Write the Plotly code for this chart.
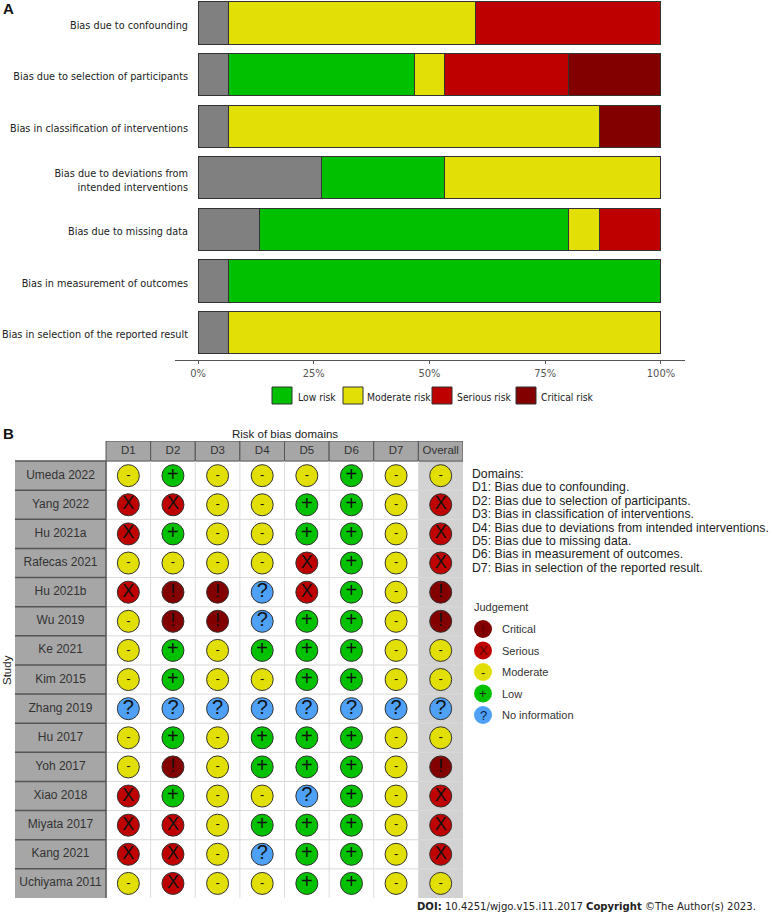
import plotly.graph_objects as go

W, H = 771, 916
def px(x): return x / W
def py(y): return 1 - y / H

# --- Panel A data
bias_labels = ["Bias due to confounding", "Bias due to selection of participants",
               "Bias in classification of interventions",
               "Bias due to deviations from<br>intended interventions",
               "Bias due to missing data", "Bias in measurement of outcomes",
               "Bias in selection of the reported result"]
no_info  = [6.67, 6.67, 6.67, 26.67, 13.33, 6.67, 6.67]
low      = [None, 40.0, None, 26.67, 66.67, 93.33, None]
moderate = [53.33, 6.67, 80.0, 46.67, 6.67, None, 93.33]
serious  = [40.0, 26.67, None, None, 13.33, None, None]
critical = [None, 20.0, 13.33, None, None, None, None]
pct_ticks = [0, 25, 50, 75, 100]
pct_labels = ["0%", "25%", "50%", "75%", "100%"]

# --- Panel B data
studies = ["Umeda 2022", "Yang 2022", "Hu 2021a", "Rafecas 2021", "Hu 2021b", "Wu 2019", "Ke 2021",
           "Kim 2015", "Zhang 2019", "Hu 2017", "Yoh 2017", "Xiao 2018", "Miyata 2017", "Kang 2021",
           "Uchiyama 2011"]
domains = ["D1", "D2", "D3", "D4", "D5", "D6", "D7", "Overall"]
judgements = ["-+---+--", "XX--++-X", "X+--++-X", "----X+-X", "X!!?X+-!", "-!!?++-!", "-+-+++--",
              "-+--++--", "????????", "-+-+++--", "-!-+++-!", "X+--?+-X", "XX-+++-X", "XX-?++-X",
              "-X--++--"]
domain_text = ["Domains:", "D1: Bias due to confounding.", "D2: Bias due to selection of participants.",
               "D3: Bias in classification of interventions.",
               "D4: Bias due to deviations from intended interventions.", "D5: Bias due to missing data.",
               "D6: Bias in measurement of outcomes.", "D7: Bias in selection of the reported result."]
levels = [("!", "Critical", "#820000"), ("X", "Serious", "#BF0000"), ("-", "Moderate", "#E2DF07"),
          ("+", "Low", "#02C100"), ("?", "No information", "#4EA1F7")]
glyph_size = {"!": 19, "X": 18, "-": 13, "+": 20, "?": 20}

NARROW = "DejaVu Sans Condensed, DejaVu Sans"
ARIAL = "Liberation Sans, Arial"
fig = go.Figure()

# Panel A bars
for name, vals, col in [("No information", no_info, "#808080"), ("Low risk", low, "#00C000"),
                        ("Moderate risk", moderate, "#E2DF07"), ("Serious risk", serious, "#BF0000"),
                        ("Critical risk", critical, "#820000")]:
    fig.add_trace(go.Bar(y=list(range(7)), x=vals, name=name, orientation="h", width=0.82,
                         marker=dict(color=col, line=dict(color="#333333", width=1)),
                         showlegend=False, xaxis="x", yaxis="y"))

# Panel B markers
for g, name, col in levels:
    xs, ys = [], []
    for r, row in enumerate(judgements):
        for c, ch in enumerate(row):
            if ch == g:
                xs.append(c); ys.append(r)
    fig.add_trace(go.Scatter(x=xs, y=ys, mode="markers+text", name=name, text=[g] * len(xs),
                             textposition="middle center", showlegend=False, cliponaxis=False,
                             textfont=dict(family=ARIAL, size=glyph_size[g], color="#111111"),
                             marker=dict(size=22, color=col, line=dict(color="#333333", width=1)),
                             xaxis="x2", yaxis="y2"))

# Study and domain labels
fig.add_trace(go.Scatter(x=[-1.52] * len(studies), y=list(range(len(studies))), text=studies, mode="text",
                         textfont=dict(family=ARIAL, size=12, color="#333333"), showlegend=False,
                         xaxis="x2", yaxis="y2"))
fig.add_trace(go.Scatter(x=list(range(8)), y=[-0.84] * 8, text=domains, mode="text",
                         textfont=dict(family=ARIAL, size=11.5, color="#333333"), showlegend=False,
                         xaxis="x2", yaxis="y2"))

shapes, ann = [], []
def rect(x0, x1, y0, y1, fill, line=None, lw=1, layer="below"):
    shapes.append(dict(type="rect", xref="x2", yref="y2", x0=x0, x1=x1, y0=y0, y1=y1, fillcolor=fill,
                       line=dict(color=line or fill, width=lw if line else 0), layer=layer))
def seg(x0, x1, y0, y1, col, lw=1):
    shapes.append(dict(type="line", xref="x2", yref="y2", x0=x0, x1=x1, y0=y0, y1=y1,
                       line=dict(color=col, width=lw), layer="below"))
def label(x, y, s, size=12, fam=ARIAL, col="#222222", anchor="left", **kw):
    ann.append(dict(xref="paper", yref="paper", x=px(x), y=py(y), text=s, showarrow=False, xanchor=anchor,
                    yanchor="middle", font=dict(family=fam, size=size, color=col), **kw))

n = len(studies)
rect(6.5, 7.5, -0.5, n - 0.5, "#D2D2D2")
rect(-2.54, -0.5, -0.5, n - 0.5, "#A6A6A6")
for c in range(8):
    rect(c - 0.5, c + 0.5, -1.19, -0.5, "#A6A6A6", "#555555", 1)
for r in range(1, n):
    seg(-0.5, 7.5, r - 0.5, r - 0.5, "#D9D9D9", 1)
for c in range(0, 7):
    seg(c + 0.5, c + 0.5, -0.5, n - 0.5, "#DDDDDD", 1)
for r in range(0, n):
    seg(-2.54, -0.5, r - 0.5, r - 0.5, "#555555", 1.5)
seg(-0.5, -0.5, -0.5, n - 0.5, "#555555", 1.5)

# Panel A legend
for x0, x1, col, s, tx in [(272, 292, "#00C000", "Low risk", 296), (343, 363, "#E2DF07", "Moderate risk", 365),
                           (432, 452, "#BF0000", "Serious risk", 455), (516, 536, "#820000", "Critical risk", 539)]:
    shapes.append(dict(type="rect", xref="paper", yref="paper", x0=px(x0), x1=px(x1), y0=py(387), y1=py(404),
                       fillcolor=col, line=dict(color="#333333", width=1)))
    label(tx, 397, s, size=10.3, fam=NARROW)

# Panel B side text
for i, s in enumerate(domain_text):
    label(470, 474 + i * 13.4, s, size=12.25, col="#222222")
label(472, 607, "Judgement", size=11, col="#333333")
for i, (g, name, col) in enumerate(levels):
    y = 629 + i * 21.5
    shapes.append(dict(type="circle", xref="paper", yref="paper", x0=px(474), x1=px(492), y0=py(y - 9), y1=py(y + 9),
                       fillcolor=col, line=dict(width=0)))
    label(483, y, g, size=13, anchor="center", col="#222222" if g in "-+" else "#5A0000" if g != "?" else "#102040")
    label(499.5, y, name, size=11, col="#333333")

label(285, 434, "Risk of bias domains", size=11.5, anchor="center", col="#222222")
label(7, 670, "Study", size=11.5, anchor="center", col="#222222", textangle=-90)
label(1, 8, "<b>A</b>", size=15, fam="Liberation Sans", col="#111111")
label(1, 434, "<b>B</b>", size=15, col="#111111")
label(758, 906, "<b>DOI:</b> 10.4251/wjgo.v15.i11.2017 <b>Copyright</b> ©The Author(s) 2023.", size=11.2, fam=NARROW,
      anchor="right", col="#222222")

fig.update_layout(
    width=W, height=H, margin=dict(l=0, r=0, t=0, b=0), paper_bgcolor="white", plot_bgcolor="white",
    barmode="stack", showlegend=False, shapes=shapes, annotations=ann,
    xaxis=dict(domain=[px(175), px(685)], range=[-4.97, 105.2], tickvals=pct_ticks, ticktext=pct_labels,
               showgrid=False, zeroline=False, showline=True, linecolor="#555555", linewidth=1, ticks="outside",
               ticklen=3, tickcolor="#555555", tickfont=dict(family=NARROW, size=11, color="#555555"), anchor="y"),
    yaxis=dict(domain=[py(360), 1], range=[6.53, -0.446], tickvals=list(range(7)), ticktext=bias_labels,
               showgrid=False, zeroline=False, showline=False, ticks="", anchor="free", position=px(188),
               ticklabelshift=-2, tickfont=dict(family=NARROW, size=10.8, color="#222222")),
    xaxis2=dict(domain=[px(15), px(463)], range=[-2.54, 7.5], visible=False, anchor="y2", fixedrange=True),
    yaxis2=dict(domain=[py(898), py(441)], range=[14.5, -1.19], visible=False, anchor="x2", fixedrange=True),
)
fig.write_html("out.html", config=dict(displayModeBar=False),
               post_script="document.body.style.margin='0';document.body.style.overflow='hidden';")
